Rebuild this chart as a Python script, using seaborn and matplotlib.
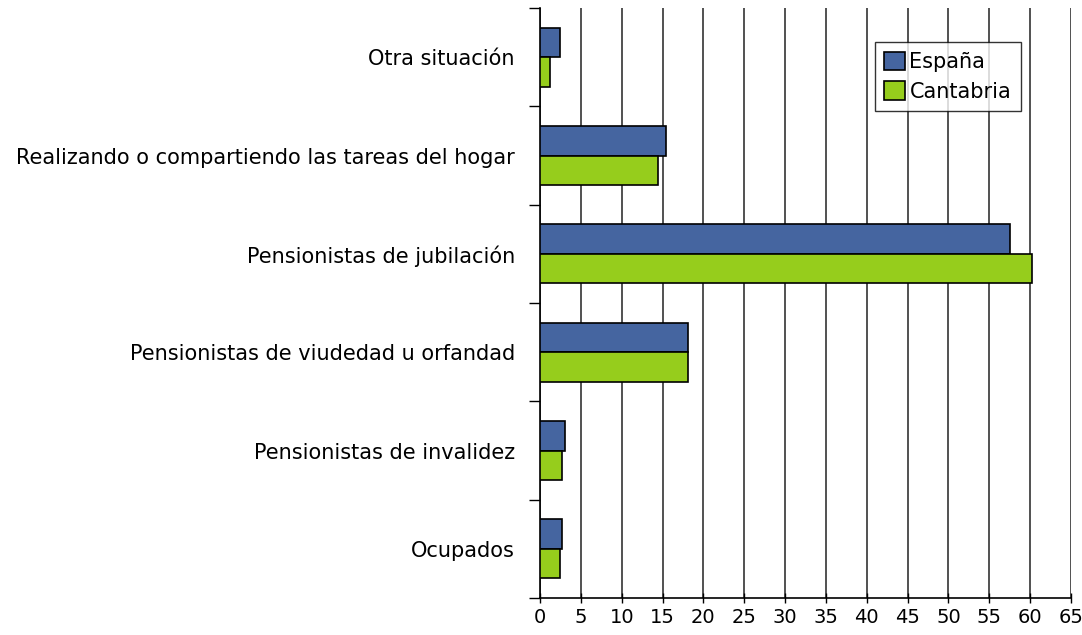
import matplotlib
matplotlib.use("Agg")
import matplotlib.pyplot as plt
import seaborn as sns
import pandas as pd
import numpy as np

categorias = [
    "Otra situación",
    "Realizando o compartiendo las tareas del hogar",
    "Pensionistas de jubilación",
    "Pensionistas de viudedad u orfandad",
    "Pensionistas de invalidez",
    "Ocupados",
]
espana = [2.5, 15.4, 57.5, 18.1, 3.1, 2.7]
cantabria = [1.2, 14.4, 60.2, 18.1, 2.7, 2.5]
series = ["España", "Cantabria"]
colores = ["#4565A0", "#96CD1C"]

df = pd.DataFrame({
    "categoria": categorias * 2,
    "valor": espana + cantabria,
    "serie": [series[0]] * len(categorias) + [series[1]] * len(categorias),
})

sns.set_style("white")
plt.rcParams["font.family"] = ["DejaVu Sans"]
plt.rcParams["text.color"] = "black"
plt.rcParams["xtick.color"] = "black"
plt.rcParams["ytick.color"] = "black"

fig = plt.figure(figsize=(10.82, 6.35), dpi=100)
ax = fig.add_axes([540 / 1082, 1 - 598 / 635, (1071 - 540) / 1082, (598 - 8) / 635])

sns.barplot(data=df, y="categoria", x="valor", hue="serie", order=categorias,
            hue_order=series, palette=colores, orient="h", width=0.6,
            edgecolor="black", linewidth=1.2, saturation=1, ax=ax, zorder=3)

ax.set_xlim(0, 65)
ax.set_ylim(len(categorias) - 0.5, -0.5)
ax.set_xticks(np.arange(0, 66, 5))
ax.grid(axis="x", color="#333333", linewidth=1.2, zorder=0)
ax.set_axisbelow(True)
for s in ["top", "right"]:
    ax.spines[s].set_visible(False)
for s in ["left", "bottom"]:
    ax.spines[s].set_color("black")
    ax.spines[s].set_linewidth(1.2)

ax.set_yticks(np.arange(-0.5, len(categorias), 1), minor=True)
ax.tick_params(axis="y", which="major", left=False, length=0, labelsize=15,
               labelcolor="black", pad=18)
ax.tick_params(axis="y", which="minor", left=True, length=8, width=1,
               color="black", direction="out")
ax.tick_params(axis="x", which="major", bottom=True, length=7, width=1, color="black",
               direction="inout", labelsize=14, labelcolor="black", pad=4)
ax.set_xlabel("")
ax.set_ylabel("")

leg = ax.legend(loc="upper right", bbox_to_anchor=(0.905, 0.942), fontsize=15,
                frameon=True, fancybox=False, edgecolor="black",
                handlelength=1.0, handleheight=1.0, handletextpad=0.2,
                borderpad=0.45, labelspacing=0.45, borderaxespad=0)
leg.get_frame().set_linewidth(1.0)
for t in leg.get_texts():
    t.set_color("black")

fig.savefig("out.png", dpi=100)
